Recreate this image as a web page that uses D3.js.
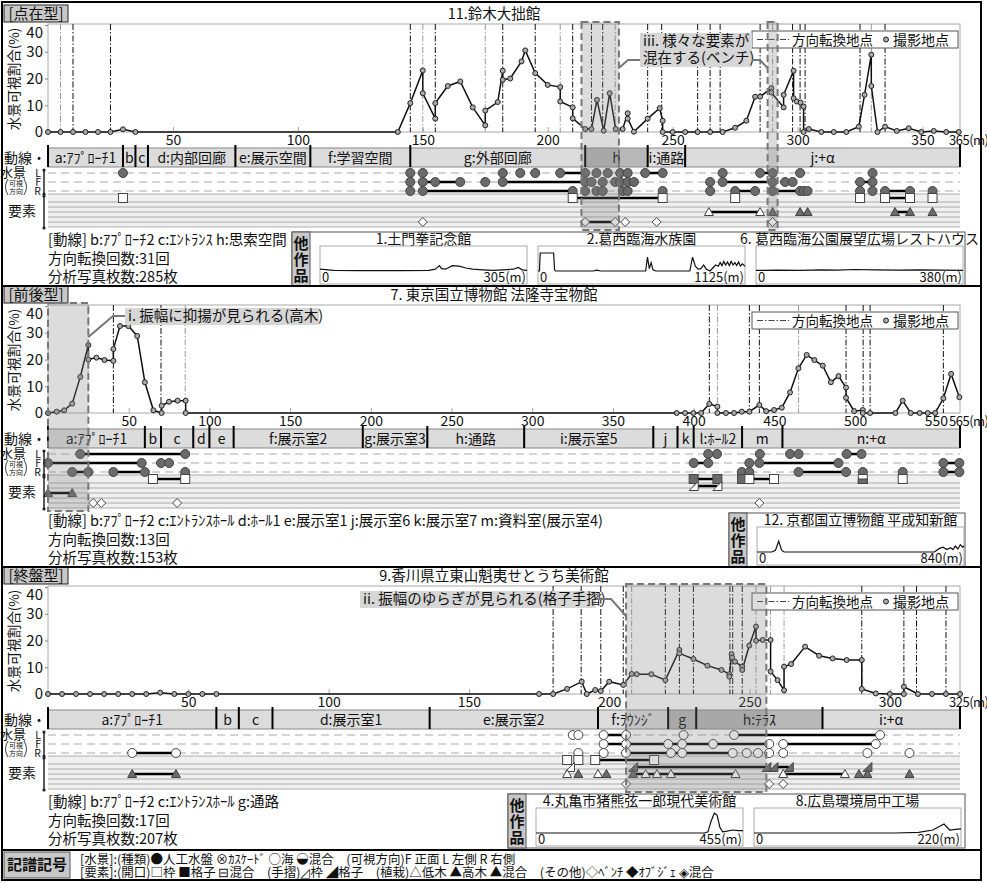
<!DOCTYPE html>
<html>
<head>
<meta charset="utf-8">
<script src="https://cdn.jsdelivr.net/npm/d3@7"></script>
<style>
  body { margin: 0; background: #fff; }
  text { font-family: "Noto Sans CJK JP", "Noto Sans", sans-serif; fill: #111; }
</style>
</head>
<body>
<script>
// ---------- データ：点在型 11.鈴木大拙館 ----------
const p1Type = "[点在型]";
const p1Title = "11.鈴木大拙館";
const p1Dist = 365;
const p1Ticks = [50, 100, 150, 200, 250, 300, 350];
const p1Points = [[0,0],[5,0],[10,0],[15,0],[20,0],[25,0],[30,1],[35,0],[140,0],[145,10.8],[150,23],[150,14.5],[155,5],[155,10.8],
  [160,17.2],[165,18.9],[170,9.2],[175,2.5],[175,8],[180,11.2],[182,22.9],[182,19.5],[185,20],[189.5,26.4],[191,30.5],[195,22],
  [200,17.6],[205,16.8],[205,11.4],[210,9.2],[210,5.1],[215,1.1],[217.5,1.1],[219.7,12],[222.4,0.5],[224.8,14.5],[227.2,1.1],
  [230,1.1],[232,7],[232,5],[234.5,0.1],[240,5],[244.8,8.9],[246,4.2],[246,0],[250,0],[255,0],[260,0],[265,0],[270,0],[275,1.6],
  [279.5,4.2],[283,13.2],[285,13.2],[289.5,16.4],[289.5,14.8],[294.4,9.2],[294.4,13.9],[298.4,22.9],[298.4,12.6],[299.7,11.4],
  [301.2,11],[302.4,9.5],[302.4,0],[304.5,1.1],[309.5,0],[314.5,0],[319.5,0],[324.5,2],[326.8,13.9],[329.5,28.9],[329.5,17.2],
  [332,0],[335,2],[339.7,0.4],[344.5,1.4],[349.5,0],[354.5,0.4],[359.5,0],[364.5,0]];
const p1Turns = [5,10,25,145,150,155,175,182,195,205,210,217.5,222,227,240,245.6,260,265,269,285,290,298,301,303,325,329.5,335];
const p1TurnsGray = [5,150,175,205,227,290,329.5];
const p1Route = [["a:ｱﾌﾟﾛｰﾁ1",0,30],["b",30,35],["c",35,40],["d:内部回廊",40,75],["e:展示空間",75,105],["f:学習空間",105,145],
  ["g:外部回廊",145,215],["h",215,240],["i:通路",240,255],["j:+α",255,365]];
const p1RouteDark = ["h"];
const p1L = [30,145,150,182,189,195,205,215,219.5,224,229,232,239,246,270,285,290,301,330];
const p1F = [145,150,155,165,175,182,215,217.5,222,227,229,232,234.5,265,270,290,295,298,325,330];
const p1R = [145,150,210,215,219.5,222,230,232,246,265,275,283,290,301,302.5,304,325,330,335,345,354];
const p1Open = [[30,"frame"],[210,"frame"],[246,"frame"],[275,"frame"],[325,"frame"],[335,"frame"],[345,"frame"],[354,"frame"]];
const p1Rail = [];
const p1Plant = [[264.5,"low"],[285,"low"],[290,"high"],[301,"high"],[304,"high"],[339,"high"],[345,"high"],[354,"high"]];
const p1Other = [[150,"bench"],[215,"bench"],[227,"bench"],[231,"bench"],[243.6,"bench"],[290,"bench"]];
const p1Links = [["L",205,215],["L",239,246],["L",285,290],["F",150,165],["F",182,215],["F",270,290],["F",325,330],
  ["R",150,210],["R",275,283],["R",290,301],["R",335,345],["open",210,246],["open",335,345],["plant",264.5,285],
  ["plant",339,345],["other",215,227]];
const p1Shade = [[213.5,228.5],[288,292]];
const p1Info = ["[動線] b:ｱﾌﾟﾛｰﾁ2 c:ｴﾝﾄﾗﾝｽ h:思索空間", "方向転換回数:31回", "分析写真枚数:285枚"];
const p1MiniTitles = ["1.土門拳記念館", "2.葛西臨海水族園", "6. 葛西臨海公園展望広場レストハウス"];
const p1MiniDist = [305, 1125, 380];
const mini1 = [[0,3],[20,1],[60,0.5],[120,0.5],[160,1],[170,3],[176,9],[179,4],[185,3],[195,9],[205,8],[215,5],[225,3],
  [240,2],[255,1],[270,2],[285,3],[292,6],[298,2],[305,1]];
const mini2 = [[0,0],[8,0],[12,30],[85,30],[90,2],[95,0],[300,0],[320,1.5],[340,0],[585,0],[595,23],[605,4],[615,14],[625,2],
  [640,0],[825,0],[840,23],[855,8],[870,3],[885,4],[900,10],[915,3],[935,0],[950,5],[965,10],[980,8],[990,14],[1000,9],
  [1010,16],[1020,10],[1030,15],[1040,9],[1050,16],[1060,10],[1070,14],[1080,9],[1090,15],[1100,8],[1110,12],[1125,8]];
const mini6 = [[0,1],[40,1.5],[80,1],[120,2],[150,1.5],[180,2.5],[220,2],[260,1.5],[300,2],[340,1.5],[380,1]];

// ---------- データ：前後型 7.東京国立博物館 法隆寺宝物館 ----------
const p2Type = "[前後型]";
const p2Title = "7. 東京国立博物館 法隆寺宝物館";
const p2Dist = 565;
const p2Ticks = [50, 100, 150, 200, 250, 300, 350, 400, 450, 500, 550];
const p2Points = [[0,0],[5.4,0.5],[10,1],[15,3.5],[20,13.5],[25,25.4],[25,20],[30,20.7],[35,19.8],[40.5,19.5],[40.5,23.9],
  [44.6,32.5],[49.8,32.5],[55.3,28.8],[60,11.5],[65.3,1],[70.4,0],[70.4,2.7],[75,4.2],[80.3,4.6],[85.3,4.6],[85.3,0],
  [389.5,0],[394.7,0],[399.8,0],[404.6,0],[409.7,3.4],[414.7,2.4],[414.7,0],[420,0],[425,0],[429.8,0.5],[434.5,0.5],
  [440.7,3],[444.9,0.7],[449.8,1.1],[454.6,2],[459.7,7.7],[464.9,16.7],[470,21.7],[474.8,19.8],[480,17.7],[485,11.5],
  [489.7,13.8],[494.4,9.5],[494.4,5.7],[499.4,0.7],[504.8,1.1],[504.8,0],[509.3,0],[525,0],[529.5,4.6],[534.5,0],[540,0],
  [545,0],[549.6,0],[554.7,5.5],[559.5,14.6],[564.6,5.9]];
const p2Turns = [25,40.5,70,85,409.7,414.7,434.5,440.7,465,494.4,505,509.3,554.7];
const p2TurnsGray = [25,85,414.7,465];
const p2Route = [["a:ｱﾌﾟﾛｰﾁ1",0,60],["b",60,70],["c",70,90],["d",90,100],["e",100,115],["f:展示室2",115,195],
  ["g:展示室3",195,235],["h:通路",235,295],["i:展示室5",295,375],["j",375,390],["k",390,400],["l:ﾎｰﾙ2",400,430],
  ["m",430,455],["n:+α",455,565]];
const p2RouteDark = [];
const p2L = [20,85,409,414.5,441,459.7,465,494.8,504];
const p2F = [0,58,70,75,400,409,434.5,440.7,489.7,554.7,564.6];
const p2R = [15,25,40.5,60,85,429.8,434.5,465,494.4,504.8,529.5,554.7,564.6];
const p2Open = [[65,"frame"],[85,"frame"],[400,"grid"],[414.7,"grid"],[430,"grid"],[434.5,"frame"],[449.8,"frame"],
  [504.8,"mix"],[529.5,"frame"]];
const p2Rail = [[400,"railF"],[414.7,"railF"]];
const p2Plant = [[0,"high"],[15,"high"]];
const p2Other = [[28,"bench"],[33,"bench"],[80,"bench"],[440.7,"bench"]];
const p2Links = [["L",20,85],["L",494.8,504],["F",0,58],["F",400,409],["F",440.7,489.7],["F",554.7,564.6],["R",15,25],
  ["R",40.5,60],["R",465,494.4],["R",554.7,564.6],["open",65,85],["open",400,414.7],["open",434.5,449.8],
  ["rail",400,414.7],["plant",0,15]];
const p2Shade = [[0,25]];
const p2Info = ["[動線] b:ｱﾌﾟﾛｰﾁ2 c:ｴﾝﾄﾗﾝｽﾎｰﾙ d:ﾎｰﾙ1 e:展示室1 j:展示室6 k:展示室7 m:資料室(展示室4)", "方向転換回数:13回", "分析写真枚数:153枚"];
const p2MiniTitles = ["12. 京都国立博物館 平成知新館"];
const p2MiniDist = [840];
const mini12 = [[0,0],[60,0],[75,3],[88,18],[100,3],[110,0],[720,0],[740,6],[755,8],[770,4],[785,7],[795,4],[805,10],
  [815,5],[825,12],[835,8],[840,10]];

// ---------- データ：終盤型 9.香川県立東山魁夷せとうち美術館 ----------
const p3Type = "[終盤型]";
const p3Title = "9.香川県立東山魁夷せとうち美術館";
const p3Dist = 325;
const p3Ticks = [50, 100, 150, 200, 250, 300];
const p3Points = [[0,0],[5,0],[10,0],[15,0],[20,0],[25,0],[30,0],[35,0],[40,0.5],[45,0],[50,0],[55,0],[60,0],[175,0],
  [180,0],[185,1.9],[190.2,4.6],[192,0],[195,1.5],[197,1.1],[200,4.6],[205,3.4],[208,7.5],[209.8,7.4],[215,7.4],[220,5.2],
  [225,16.5],[225,15.2],[230,13.1],[235,10.6],[240,9],[242.8,7.4],[242.8,6.5],[243.6,14.9],[243.8,13.6],[244.8,12.1],
  [247.4,10.2],[247.4,9],[249.9,18.1],[252.3,25.2],[252.3,19.9],[254.7,20.2],[257.5,20.2],[257.5,8.4],[260,5.2],
  [262.3,1.4],[262.3,10.2],[264.8,11.2],[269.8,17.7],[274.8,14.3],[279.6,13.3],[284.6,12.7],[290,12.7],[290,1.9],
  [295,0.2],[300,0],[305,0],[305,2.7],[310,0],[315,0],[320,0],[325,0]];
const p3Turns = [180,190,197,205,208,220,225,230,243,244,247.4,252.3,257.5,262.3,290,305,309.5,320];
const p3TurnsGray = [208,252.3,257.5,262.3];
const p3Route = [["a:ｱﾌﾟﾛｰﾁ1",0,60],["b",60,68],["c",68,80],["d:展示室1",80,136],["e:展示室2",136,196],
  ["f:ﾗｳﾝｼﾞ",196,221],["g",221,231],["h:ﾃﾗｽ",231,276],["i:+α",276,325]];
const p3RouteDark = ["g", "h:ﾃﾗｽ"];
const p3L = [187,189,198,206,226.5,244.5,296.5];
const p3F = [198,206,221,226,237,257,262,295];
const p3R = [30,45.6,189,198,206,222,226,244,249,253,257,262,292,307];
const p3Open = [[185,"frame"],[189,"frame"],[195,"frame"],[216,"frame"]];
const p3Rail = [[186,"railF"],[208.5,"railG"],[256,"railG"],[258.5,"railG"],[264,"railG"],[292,"railG"]];
const p3Plant = [[30,"high"],[45.6,"high"],[185,"low"],[189,"high"],[196,"low"],[199,"high"],[208.5,"high"],[213,"low"],
  [217,"low"],[222,"low"],[245,"low"],[262,"low"],[284,"low"],[289,"high"],[292,"high"],[307,"high"]];
const p3Other = [[206,"bench"],[257,"bench"],[262,"bench"]];
const p3Links = [["L",198,206],["L",244.5,296.5],["F",198,257],["F",262,295],["R",30,45.6],["R",206,244],
  ["open",195,216],["rail",208.5,256],["rail",258.5,264],["plant",30,45.6],["plant",208.5,245],["plant",262,284]];
const p3Shade = [[206,256]];
const p3Info = ["[動線] b:ｱﾌﾟﾛｰﾁ2 c:ｴﾝﾄﾗﾝｽﾎｰﾙ g:通路", "方向転換回数:17回", "分析写真枚数:207枚"];
const p3MiniTitles = ["4.丸亀市猪熊弦一郎現代美術館", "8.広島環境局中工場"];
const p3MiniDist = [455, 220];
const mini4 = [[0,0],[370,0],[378,2],[385,20],[392,33],[398,30],[404,10],[410,2],[420,3],[432,5],[445,4],[455,4]];
const mini8 = [[0,0],[150,0],[175,1],[190,5],[202,15],[208,5],[214,6],[220,7]];

const legendWater = "[水景]:(種類)●人工水盤 ⊗ｶｽｹｰﾄﾞ ○海 ◒混合　(可視方向)F 正面 L 左側 R 右側";
const legendElem = "[要素]:(開口)□枠 ■格子 ⊟混合　(手摺)◿枠 ◢格子　(植栽)△低木 ▲高木 ▲混合　(その他)◇ﾍﾞﾝﾁ ◆ｵﾌﾞｼﾞｪ ◈混合";

// ---------- 描画 ----------
const X0 = 48, X1 = 960;
const FONT = '"Noto Sans CJK JP", sans-serif';
const svg = d3.select("body").append("svg").attr("width", 987).attr("height", 883);

function symbol(g, kind, cx, cy) {
  const s = 4.5;
  if (kind === "pool" || kind === "sea") {
    g.append("circle").attr("cx", cx).attr("cy", cy).attr("r", s)
      .attr("fill", kind === "pool" ? "#6a6a6a" : "#fff").attr("stroke", "#444");
  } else if (kind === "frame" || kind === "grid" || kind === "mix") {
    g.append("rect").attr("x", cx - s).attr("y", cy - s).attr("width", 2 * s).attr("height", 2 * s)
      .attr("fill", kind === "grid" ? "#6a6a6a" : "#fff").attr("stroke", "#444");
    if (kind === "mix") g.append("rect").attr("x", cx - s).attr("y", cy).attr("width", 2 * s).attr("height", s)
      .attr("fill", "#6a6a6a").attr("stroke", "#444");
  } else if (kind === "railF" || kind === "railG") {
    g.append("path").attr("d", `M${cx + s},${cy - s}L${cx + s},${cy + s}L${cx - s},${cy + s}Z`)
      .attr("fill", kind === "railG" ? "#6a6a6a" : "#fff").attr("stroke", "#444");
  } else if (kind === "low" || kind === "high") {
    g.append("path").attr("d", `M${cx},${cy - s}L${cx + s},${cy + s - 1}L${cx - s},${cy + s - 1}Z`)
      .attr("fill", kind === "high" ? "#6a6a6a" : "#fff").attr("stroke", "#444");
  } else if (kind === "bench") {
    g.append("path").attr("d", `M${cx},${cy - s}L${cx + s},${cy}L${cx},${cy + s}L${cx - s},${cy}Z`)
      .attr("fill", "#fff").attr("stroke", "#444");
  }
}

function drawPanel(p) {
  const y0 = p.y0;
  const x = d3.scaleLinear().domain([0, p.dist]).range([X0, X1]);
  const y = d3.scaleLinear().domain([0, 40]).range([y0, y0 - 107]);
  const g = svg.append("g");

  // 見出し
  g.append("rect").attr("x", 4).attr("y", y0 - 127).attr("width", 64).attr("height", 17)
    .attr("fill", "#c8c8c8").attr("stroke", "#222");
  g.append("text").attr("x", 36).attr("y", y0 - 113).attr("text-anchor", "middle").attr("font-size", 15).text(p.type);
  g.append("text").attr("x", 494).attr("y", y0 - 113).attr("text-anchor", "middle").attr("font-size", 14.5).text(p.title);

  // グラフ枠
  g.append("rect").attr("x", X0).attr("y", y0 - 108).attr("width", X1 - X0).attr("height", 108)
    .attr("fill", "none").attr("stroke", "#aaa");

  // 方向転換地点
  g.selectAll(".turn").data(p.turns).join("line")
    .attr("x1", d => x(d)).attr("x2", d => x(d)).attr("y1", y0 - 108).attr("y2", y0)
    .attr("stroke", d => p.turnsGray.includes(d) ? "#999" : "#111").attr("stroke-width", 1)
    .attr("stroke-dasharray", "6,2,1.5,2");

  // 軸
  const ya = g.append("g").attr("transform", `translate(${X0},0)`)
    .call(d3.axisLeft(y).tickValues([0, 10, 20, 30, 40]).tickSize(3).tickPadding(2));
  ya.select(".domain").remove();
  ya.selectAll("text").attr("font-size", 15).style("font-family", FONT)
    .attr("dy", d => d === 40 ? "0.85em" : "0.32em");
  ya.selectAll("line").attr("stroke", "#888");
  const xa = g.append("g").attr("transform", `translate(0,${y0})`)
    .call(d3.axisBottom(x).tickValues(p.ticks).tickSize(-5).tickPadding(3));
  xa.select(".domain").remove();
  xa.selectAll("text").attr("font-size", 14).style("font-family", FONT);
  xa.selectAll("line").attr("stroke", "#aaa");
  g.append("text").attr("x", x(p.dist) - 11).attr("y", y0 + 13).attr("font-size", 13)
    .attr("letter-spacing", -0.5).text(p.dist + "(m)");
  g.append("text").attr("transform", `translate(19,${y0 - 53}) rotate(-90)`).attr("text-anchor", "middle")
    .attr("font-size", 13.5).text("水景可視割合(%)");

  // 折れ線と撮影地点
  const line = d3.line().x(d => x(d[0])).y(d => y(d[1]));
  g.append("path").datum(p.points).attr("d", line).attr("fill", "none").attr("stroke", "#111").attr("stroke-width", 1.5);
  g.selectAll(".pt").data(p.points).join("circle")
    .attr("cx", d => x(d[0])).attr("cy", d => y(d[1])).attr("r", 2.5)
    .attr("fill", "#aaa").attr("stroke", "#222").attr("stroke-width", 1);

  // 凡例
  g.append("rect").attr("x", 752).attr("y", y0 - 101).attr("width", 206).attr("height", 17)
    .attr("fill", "#fff").attr("stroke", "#555");
  g.append("line").attr("x1", 757).attr("x2", 789).attr("y1", y0 - 92.5).attr("y2", y0 - 92.5)
    .attr("stroke", "#444").attr("stroke-dasharray", "6,2,1.5,2");
  g.append("text").attr("x", 792).attr("y", y0 - 87).attr("font-size", 13.5).text("方向転換地点");
  g.append("circle").attr("cx", 886).attr("cy", y0 - 92.5).attr("r", 2.5).attr("fill", "#aaa").attr("stroke", "#222");
  g.append("text").attr("x", 893).attr("y", y0 - 87).attr("font-size", 14).text("撮影地点");

  // 動線
  const rt = y0 + 16, rb = y0 + 35;
  g.selectAll(".seg").data(p.route).join("rect")
    .attr("x", d => x(d[1])).attr("y", rt).attr("width", d => x(d[2]) - x(d[1])).attr("height", rb - rt)
    .attr("fill", d => p.routeDark.includes(d[0]) ? "#b8b8b8" : "#dcdcdc").attr("stroke", "#888");
  g.selectAll(".segdiv").data(p.route.map(d => d[1]).concat([p.dist])).join("line")
    .attr("x1", d => x(d)).attr("x2", d => x(d)).attr("y1", y0 + 13).attr("y2", rb)
    .attr("stroke", "#000").attr("stroke-width", 2);
  g.selectAll(".seglab").data(p.route).join("text")
    .attr("x", d => (x(d[1]) + x(d[2])) / 2).attr("y", y0 + 31).attr("text-anchor", "middle").attr("font-size", 14)
    .text(d => d[0]);
  g.append("text").attr("x", 4).attr("y", y0 + 31).attr("font-size", 14).text("動線・");

  // 水景・要素の行
  const rowY = { L: y0 + 41, F: y0 + 50, R: y0 + 59, open: y0 + 66, rail: y0 + 73, plant: y0 + 80, other: y0 + 90 };
  g.append("rect").attr("x", X0).attr("y", y0 + 62).attr("width", X1 - X0).attr("height", 33).attr("fill", "#f0f0f0");
  g.selectAll(".wl").data(["L", "F", "R"]).join("line")
    .attr("x1", X0).attr("x2", X1).attr("y1", d => rowY[d]).attr("y2", d => rowY[d])
    .attr("stroke", "#aaa").attr("stroke-dasharray", "8,5");
  g.selectAll(".el").data([62, 70, 75, 80, 85, 90, 95]).join("line")
    .attr("x1", X0).attr("x2", X1).attr("y1", d => y0 + d).attr("y2", d => y0 + d)
    .attr("stroke", "#999").attr("stroke-width", 0.8);

  g.selectAll(".lk").data(p.links).join("line")
    .attr("x1", d => x(d[1])).attr("x2", d => x(d[2])).attr("y1", d => rowY[d[0]]).attr("y2", d => rowY[d[0]])
    .attr("stroke", "#000").attr("stroke-width", 2.5);
  const sg = g.append("g");
  ["L", "F", "R"].forEach(r => p.water[r].forEach(m => symbol(sg, p.waterKind, x(m), rowY[r])));
  p.open.forEach(d => symbol(sg, d[1], x(d[0]), rowY.open));
  p.rail.forEach(d => symbol(sg, d[1], x(d[0]), rowY.rail));
  p.plant.forEach(d => symbol(sg, d[1], x(d[0]), rowY.plant));
  p.other.forEach(d => symbol(sg, d[1], x(d[0]), rowY.other));

  // 左側の見出し
  g.append("text").attr("x", 0).attr("y", y0 + 45).attr("font-size", 13).text("水景");
  g.selectAll(".lfr").data(["L", "F", "R"]).join("text")
    .attr("x", 41).attr("y", d => rowY[d] + 4).attr("text-anchor", "end").attr("font-size", 10.5)
    .text(d => d);
  g.append("text").attr("x", 16).attr("y", y0 + 54).attr("text-anchor", "middle").attr("font-size", 7).text("可視");
  g.append("text").attr("x", 16).attr("y", y0 + 62).attr("text-anchor", "middle").attr("font-size", 7).text("方向");
  g.append("path").attr("d", `M8,${y0 + 47}Q3,${y0 + 55} 8,${y0 + 63}M24,${y0 + 47}Q29,${y0 + 55} 24,${y0 + 63}`)
    .attr("fill", "none").attr("stroke", "#444");
  g.append("text").attr("x", 8).attr("y", y0 + 84).attr("font-size", 14).text("要素");
  [[y0 + 38, y0 + 62], [y0 + 64, y0 + 96]].forEach(b => {
    g.append("line").attr("x1", 44).attr("x2", 44).attr("y1", b[0]).attr("y2", b[1]).attr("stroke", "#222").attr("stroke-width", 1.5);
    g.append("circle").attr("cx", 44).attr("cy", b[0]).attr("r", 1.6).attr("fill", "#222");
    g.append("circle").attr("cx", 44).attr("cy", b[1]).attr("r", 1.6).attr("fill", "#222");
  });

  // 網掛け
  p.shade.forEach(s => {
    g.append("rect").attr("x", x(s[0])).attr("y", y0 - 110).attr("width", x(s[1]) - x(s[0])).attr("height", 208)
      .attr("fill", "#808080").attr("fill-opacity", 0.28)
      .attr("stroke", "#777").attr("stroke-width", 2).attr("stroke-dasharray", "7,4");
  });
  p.note(g, x, y0);

  // 情報
  p.info.forEach((t, i) => g.append("text").attr("x", 48).attr("y", y0 + 113 + i * 18.5).attr("font-size", 14.5).text(t));

  // 他作品
  const bx = p.miniX;
  g.append("rect").attr("x", bx).attr("y", y0 + 100).attr("width", 965 - bx).attr("height", 54)
    .attr("fill", "none").attr("stroke", "#555");
  g.append("rect").attr("x", bx).attr("y", y0 + 100).attr("width", 18).attr("height", 54)
    .attr("fill", "#c8c8c8").attr("stroke", "#555");
  ["他", "作", "品"].forEach((c, i) => g.append("text").attr("x", bx + 9).attr("y", y0 + 117 + i * 16)
    .attr("text-anchor", "middle").attr("font-size", 15).attr("font-weight", "bold").text(c));
  p.minis.forEach((mn, i) => {
    const fx0 = bx + 28 + i * 218, fx1 = fx0 + 207;
    const base = y0 + 139;
    const mx = d3.scaleLinear().domain([0, mn.dist]).range([fx0, fx1]);
    const my = d3.scaleLinear().domain([0, 40]).range([base, base - 24]);
    g.append("text").attr("x", (fx0 + fx1) / 2).attr("y", y0 + 112).attr("text-anchor", "middle").attr("font-size", 14).text(mn.title);
    g.append("rect").attr("x", fx0).attr("y", y0 + 114).attr("width", fx1 - fx0).attr("height", 38)
      .attr("fill", "#fff").attr("stroke", "#aaa");
    g.append("path").datum(mn.data).attr("d", d3.line().x(d => mx(d[0])).y(d => my(d[1])))
      .attr("fill", "none").attr("stroke", "#111").attr("stroke-width", 1.2);
    g.append("text").attr("x", fx0 + 2).attr("y", y0 + 150).attr("font-size", 13).text("0");
    g.append("text").attr("x", fx1 - 1).attr("y", y0 + 150).attr("text-anchor", "end").attr("font-size", 13).text(mn.dist + "(m)");
  });
}

function noteBox(g, lines, bx, by, w, conn) {
  g.append("rect").attr("x", bx).attr("y", by).attr("width", w).attr("height", lines.length * 17)
    .attr("fill", "#d6d6d6");
  lines.forEach((t, i) => g.append("text").attr("x", bx + 3).attr("y", by + 13 + i * 17).attr("font-size", 14.5).text(t));
  conn.forEach(c => g.append("path").attr("d", d3.line()(c)).attr("fill", "none").attr("stroke", "#777").attr("stroke-width", 2));
}

drawPanel({
  y0: 132, type: p1Type, title: p1Title, dist: p1Dist, ticks: p1Ticks, points: p1Points,
  turns: p1Turns, turnsGray: p1TurnsGray, route: p1Route, routeDark: p1RouteDark,
  water: { L: p1L, F: p1F, R: p1R }, waterKind: "pool", open: p1Open, rail: p1Rail, plant: p1Plant, other: p1Other,
  links: p1Links, shade: p1Shade, info: p1Info, miniX: 292,
  minis: [{ title: p1MiniTitles[0], dist: p1MiniDist[0], data: mini1 }, { title: p1MiniTitles[1], dist: p1MiniDist[1], data: mini2 },
    { title: p1MiniTitles[2], dist: p1MiniDist[2], data: mini6 }],
  note: (g, x, y0) => noteBox(g, ["iii. 様々な要素が", "混在する(ベンチ)"], 640, 33, 112,
    [[[x(228.5), y0 - 64], [628, y0 - 72], [640, y0 - 72]], [[752, y0 - 72], [760, y0 - 72], [x(288), y0 - 64]]])
});

drawPanel({
  y0: 413, type: p2Type, title: p2Title, dist: p2Dist, ticks: p2Ticks, points: p2Points,
  turns: p2Turns, turnsGray: p2TurnsGray, route: p2Route, routeDark: p2RouteDark,
  water: { L: p2L, F: p2F, R: p2R }, waterKind: "pool", open: p2Open, rail: p2Rail, plant: p2Plant, other: p2Other,
  links: p2Links, shade: p2Shade, info: p2Info, miniX: 729,
  minis: [{ title: p2MiniTitles[0], dist: p2MiniDist[0], data: mini12 }],
  note: (g, x, y0) => noteBox(g, ["i. 振幅に抑揚が見られる(高木)"], 125, y0 - 105, 194,
    [[[125, y0 - 97], [113, y0 - 97], [x(25), y0 - 76]]])
});

drawPanel({
  y0: 694, type: p3Type, title: p3Title, dist: p3Dist, ticks: p3Ticks, points: p3Points,
  turns: p3Turns, turnsGray: p3TurnsGray, route: p3Route, routeDark: p3RouteDark,
  water: { L: p3L, F: p3F, R: p3R }, waterKind: "sea", open: p3Open, rail: p3Rail, plant: p3Plant, other: p3Other,
  links: p3Links, shade: p3Shade, info: p3Info, miniX: 508,
  minis: [{ title: p3MiniTitles[0], dist: p3MiniDist[0], data: mini4 }, { title: p3MiniTitles[1], dist: p3MiniDist[1], data: mini8 }],
  note: (g, x, y0) => noteBox(g, ["ii. 振幅のゆらぎが見られる(格子手摺)"], 360, y0 - 103, 236,
    [[[596, y0 - 95], [611, y0 - 95], [x(206), y0 - 78]]])
});

// 外枠と区切り
svg.append("rect").attr("x", 2).attr("y", 2).attr("width", 979).attr("height", 878)
  .attr("fill", "none").attr("stroke", "#000").attr("stroke-width", 2);
[286, 567, 850].forEach(v => svg.append("line").attr("x1", 2).attr("x2", 981).attr("y1", v).attr("y2", v)
  .attr("stroke", "#000").attr("stroke-width", 2));

// 記譜記号
svg.append("rect").attr("x", 4).attr("y", 852).attr("width", 66).attr("height", 26).attr("fill", "#c8c8c8").attr("stroke", "#555");
svg.append("text").attr("x", 37).attr("y", 870).attr("text-anchor", "middle").attr("font-size", 15).attr("font-weight", "bold").text("記譜記号");
svg.append("text").attr("x", 80).attr("y", 864).attr("font-size", 12.5).text(legendWater);
svg.append("text").attr("x", 80).attr("y", 877).attr("font-size", 12.5).text(legendElem);
</script>
</body>
</html>
